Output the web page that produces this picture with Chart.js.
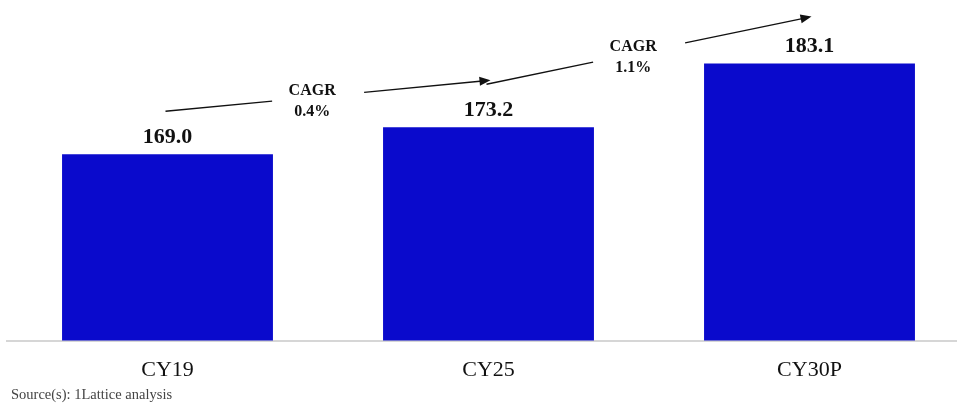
<!DOCTYPE html>
<html>
<head>
<meta charset="utf-8">
<script src="https://cdn.jsdelivr.net/npm/chart.js@4"></script>
<style>
  html, body { margin: 0; padding: 0; background: #fff; overflow: hidden; }
  #wrap { position: relative; width: 957px; height: 403px; overflow: hidden; }
  #src { position: absolute; left: 11px; top: 386px; font-family: 'Liberation Serif', serif; font-size: 14.5px; color: #444; }
</style>
</head>
<body>
<div id="wrap">
  <canvas id="chartMkt" width="975" height="403"></canvas>
  <div id="src">Source(s): 1Lattice analysis</div>
</div>
<script>
// ── data ──
const CATEGORIES = ['CY19', 'CY25', 'CY30P'];
const VALUES     = [169.0, 173.2, 183.1];
const CAGR_LBL   = ['0.4%', '1.1%'];

const BAR_COL = '#0a0acc';
const SERIF   = "'Liberation Serif', 'Times New Roman', serif";

// value labels above each bar
const valueLabels = {
  id: 'valueLabels',
  afterDatasetsDraw(chart) {
    const { ctx } = chart;
    const bars = chart.getDatasetMeta(0).data;
    ctx.save();
    ctx.font = 'bold 22px ' + SERIF;
    ctx.fillStyle = '#111';
    ctx.textAlign = 'center';
    ctx.textBaseline = 'middle';
    bars.forEach((b, i) => ctx.fillText(VALUES[i].toFixed(1), b.x, b.y - 17));
    ctx.restore();
  }
};

// CAGR arrows between bars
const cagrArrows = {
  id: 'cagrArrows',
  afterDatasetsDraw(chart) {
    const { ctx } = chart;
    const bars = chart.getDatasetMeta(0).data;
    ctx.save();
    ctx.strokeStyle = '#111';
    ctx.fillStyle = '#111';
    ctx.lineWidth = 1.3;
    for (let i = 0; i < bars.length - 1; i++) {
      const x0 = bars[i].x - 2, y0 = bars[i].y - 43;
      const x1 = bars[i + 1].x + 2, y1 = bars[i + 1].y - 47;
      const slope = (y1 - y0) / (x1 - x0);
      const tx = x0 + (x1 - x0) * 0.445;
      const ty = y0 + (tx - x0) * slope;
      const ga = tx - 38, gb = tx + 54;
      // two segments, gap for the text
      ctx.beginPath();
      ctx.moveTo(x0, y0);
      ctx.lineTo(ga, y0 + (ga - x0) * slope);
      ctx.moveTo(gb, y0 + (gb - x0) * slope);
      ctx.lineTo(x1 - 8, y1 - 8 * slope);
      ctx.stroke();
      // arrow head
      const ang = Math.atan(slope);
      ctx.save();
      ctx.translate(x1, y1);
      ctx.rotate(ang);
      ctx.beginPath();
      ctx.moveTo(0, 0);
      ctx.lineTo(-11, -4.5);
      ctx.lineTo(-11, 4.5);
      ctx.closePath();
      ctx.fill();
      ctx.restore();
      // text
      ctx.font = 'bold 16px ' + SERIF;
      ctx.textAlign = 'center';
      ctx.textBaseline = 'middle';
      ctx.fillText('CAGR', tx + 2, ty - 7);
      ctx.fillText(CAGR_LBL[i], tx + 2, ty + 14);
    }
    ctx.restore();
  }
};

new Chart(document.getElementById('chartMkt'), {
  type: 'bar',
  data: {
    labels: CATEGORIES,
    datasets: [{
      data: VALUES,
      backgroundColor: BAR_COL,
      borderWidth: 0,
      barPercentage: 0.657,
      categoryPercentage: 1,
    }],
  },
  options: {
    responsive: false,
    animation: false,
    layout: { padding: { left: 7, right: 5, top: 0, bottom: 4 } },
    plugins: { legend: { display: false }, tooltip: { enabled: false } },
    scales: {
      y: { display: false, min: 140, max: 193 },
      x: {
        grid: { display: false, drawTicks: false },
        border: { display: true, color: '#d6d6d6', width: 2 },
        ticks: { color: '#111', padding: 16, font: { family: SERIF, size: 22 } },
      },
    },
  },
  plugins: [valueLabels, cagrArrows],
});
</script>
</body>
</html>
